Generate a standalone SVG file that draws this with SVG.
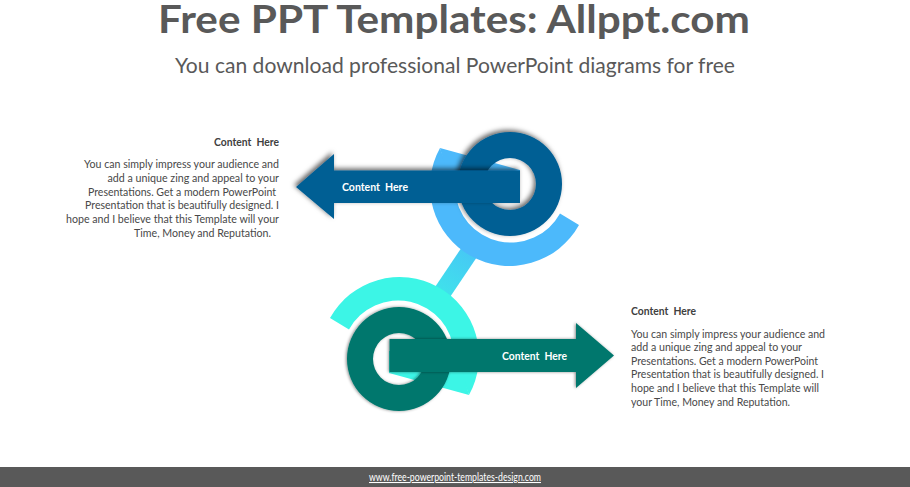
<svg xmlns="http://www.w3.org/2000/svg" width="910" height="487" viewBox="0 0 910 487">
<style>
text{font-family:"Lato","Carlito","Liberation Sans",sans-serif;white-space:pre}
.title{font-size:39px;font-weight:700;fill:#595959}
.sub{font-size:20.5px;fill:#595959}
.head{font-size:11px;font-weight:700;fill:#404040}
.body{font-size:11px;fill:#484848}
.lbl{font-size:11px;font-weight:700;fill:#fff}
.foot{font-size:10.5px;fill:#fff;text-decoration:underline}
.blue{fill:#045e94}.sky{fill:#4cb9fb}.teal{fill:#06776d}.aqua{fill:#3cf5e6}
</style>
<defs>
<linearGradient id="bar" gradientUnits="userSpaceOnUse" x1="475" y1="245" x2="437" y2="300">
<stop offset="0" stop-color="#48c4f6"/><stop offset="1" stop-color="#3ee6ea"/>
</linearGradient>
<filter id="sh1" x="-20%" y="-20%" width="140%" height="140%"><feDropShadow dx="-2" dy="-2" stdDeviation="2.6" flood-color="#000" flood-opacity=".6"/></filter>
<filter id="sh2" x="-20%" y="-20%" width="140%" height="140%"><feDropShadow dx="-1" dy="0" stdDeviation="1.6" flood-color="#000" flood-opacity=".45"/></filter>
</defs>
<rect width="910" height="487" fill="#fff"/>
<g id="header">
<text class="title" x="158" y="33" textLength="592" lengthAdjust="spacingAndGlyphs">Free PPT Templates: Allppt.com</text>
<text class="sub" x="175" y="73" textLength="560" lengthAdjust="spacingAndGlyphs">You can download professional PowerPoint diagrams for free</text>
</g>
<g id="connectors">
<polygon fill="url(#bar)" points="468,238 483,248 444,306 429,296"/>
</g>
<g id="node-top">
<path class="sky" d="M440 148A79 79 0 0 0 579 225L560 213.5A56 56 0 0 1 455 190L450 176L440 148Z"/>
<polygon class="sky" points="440,148 520,170 520,192 452,192"/>
<path class="blue" filter="url(#sh1)" fill-rule="evenodd" d="M458 184a52 52 0 1 0 104 0a52 52 0 1 0 -104 0ZM484 184a26 26 0 1 1 52 0a26 26 0 1 1 -52 0Z"/>
<polygon class="blue" filter="url(#sh1)" points="296,187 334,154 334,170.500 520,170.500 520,203 334,203 334,219"/>
<text class="lbl" x="342" y="191" textLength="66" lengthAdjust="spacingAndGlyphs">Content  Here</text>
</g>
<g id="node-bottom">
<path class="aqua" d="M469 395A79 79 0 0 0 330 318L349 329.500A56 56 0 0 1 454 353L459 367L469 395Z"/>
<polygon class="aqua" points="469,395 389,373 389,351 457,351"/>
<path class="teal" filter="url(#sh2)" fill-rule="evenodd" d="M347 359a52 52 0 1 0 104 0a52 52 0 1 0 -104 0ZM373 359a26 26 0 1 1 52 0a26 26 0 1 1 -52 0Z"/>
<polygon class="teal" filter="url(#sh2)" points="389.500,339 576,339 576,323 614,355.500 576,388 576,372 389.500,372"/>
<text class="lbl" x="502" y="360" textLength="65" lengthAdjust="spacingAndGlyphs">Content  Here</text>
</g>
<g id="text-left">
<text class="head" x="214" y="146" textLength="65" lengthAdjust="spacingAndGlyphs">Content  Here</text>
<text class="body" x="84" y="168" textLength="195" lengthAdjust="spacingAndGlyphs">You can simply impress your audience and</text>
<text class="body" x="107.500" y="182" textLength="171.500" lengthAdjust="spacingAndGlyphs">add a unique zing and appeal to your</text>
<text class="body" x="88" y="195.500" textLength="188" lengthAdjust="spacingAndGlyphs">Presentations. Get a modern PowerPoint</text>
<text class="body" x="85" y="209" textLength="194" lengthAdjust="spacingAndGlyphs">Presentation that is beautifully designed. I</text>
<text class="body" x="66" y="223" textLength="213" lengthAdjust="spacingAndGlyphs">hope and I believe that this Template will your</text>
<text class="body" x="134" y="237" textLength="137" lengthAdjust="spacingAndGlyphs">Time, Money and Reputation.</text>
</g>
<g id="text-right">
<text class="head" x="631" y="314.500" textLength="65" lengthAdjust="spacingAndGlyphs">Content  Here</text>
<text class="body" x="631" y="337.500" textLength="194" lengthAdjust="spacingAndGlyphs">You can simply impress your audience and</text>
<text class="body" x="631" y="351" textLength="171" lengthAdjust="spacingAndGlyphs">add a unique zing and appeal to your</text>
<text class="body" x="631" y="364.500" textLength="187" lengthAdjust="spacingAndGlyphs">Presentations. Get a modern PowerPoint</text>
<text class="body" x="631" y="378" textLength="193" lengthAdjust="spacingAndGlyphs">Presentation that is beautifully designed. I</text>
<text class="body" x="631" y="392" textLength="188" lengthAdjust="spacingAndGlyphs">hope and I believe that this Template will</text>
<text class="body" x="631" y="406" textLength="159" lengthAdjust="spacingAndGlyphs">your Time, Money and Reputation.</text>
</g>
<g id="footer">
<rect x="0" y="467" width="910" height="20" fill="#595959"/>
<text class="foot" x="369" y="481" textLength="172" lengthAdjust="spacingAndGlyphs">www.free-powerpoint-templates-design.com</text>
</g>
</svg>
